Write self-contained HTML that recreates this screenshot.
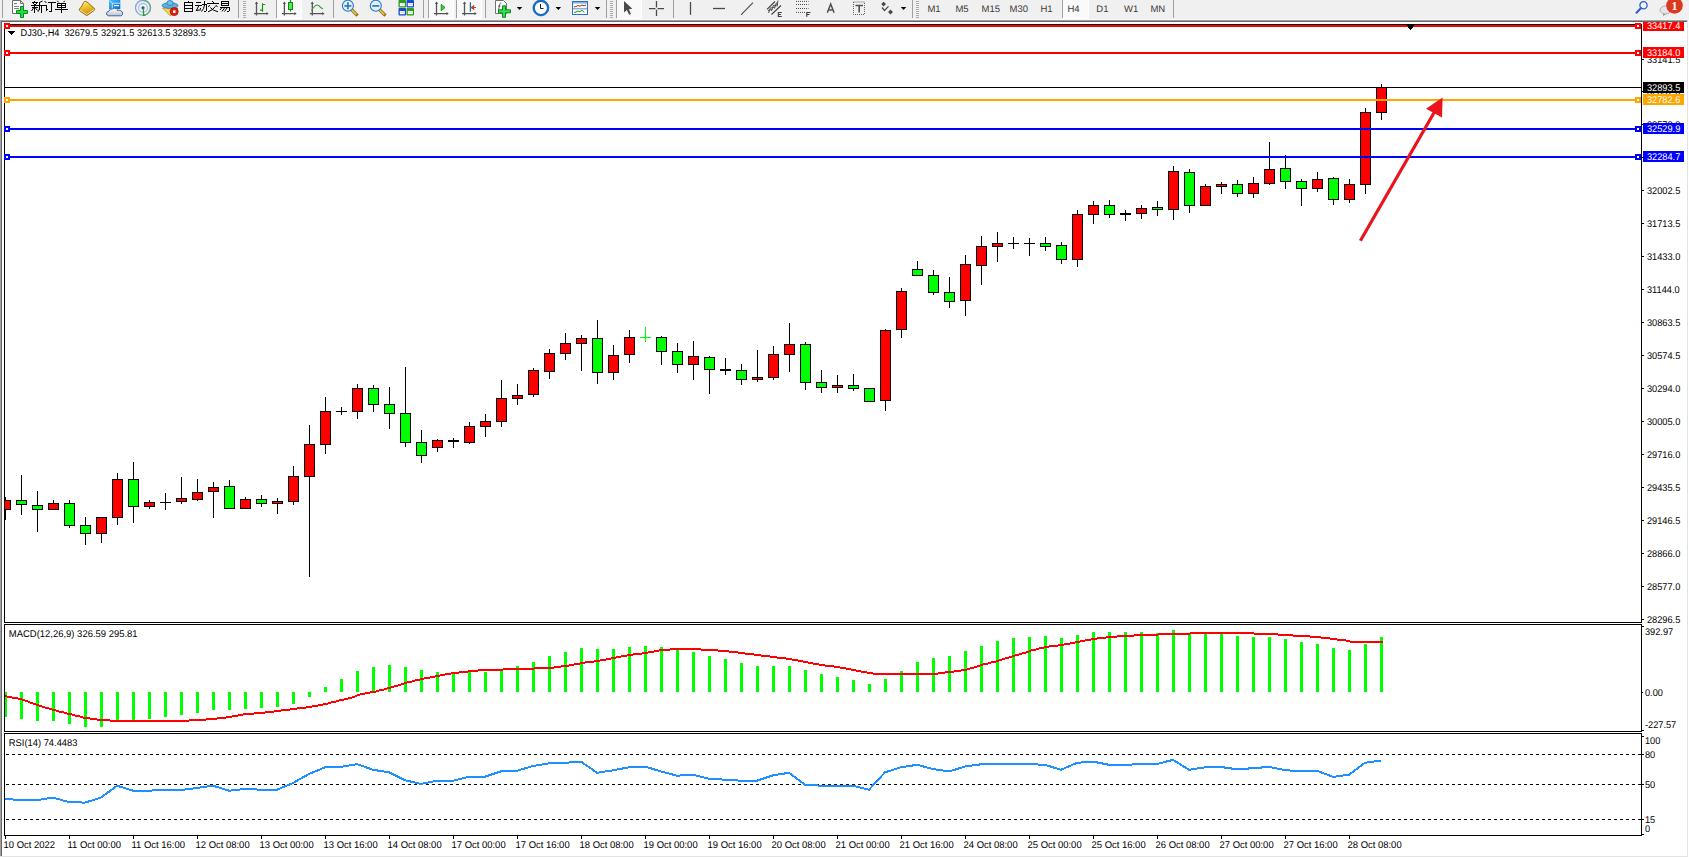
<!DOCTYPE html>
<html><head><meta charset="utf-8"><title>MT4 DJ30 H4</title>
<style>
html,body{margin:0;padding:0;background:#F0F0F0;overflow:hidden;}
svg{display:block;}
</style></head><body>
<svg width="1689" height="858" viewBox="0 0 1689 858" shape-rendering="crispEdges" text-rendering="geometricPrecision">
<rect x="0" y="0" width="1689" height="858" fill="#F0F0F0"/>
<rect x="0" y="20" width="1688" height="1" fill="#A0A0A0"/>
<rect x="0" y="20" width="1" height="837" fill="#A0A0A0"/>
<rect x="1" y="21" width="1686" height="1" fill="#696969"/>
<rect x="1" y="21" width="1" height="835" fill="#696969"/>
<rect x="1687" y="20" width="1" height="837" fill="#E3E3E3"/>
<rect x="0" y="856" width="1688" height="1" fill="#E3E3E3"/>
<rect x="1688" y="20" width="1" height="838" fill="#FFFFFF"/>
<rect x="0" y="857" width="1689" height="1" fill="#FFFFFF"/>
<rect x="2" y="22" width="1685" height="834" fill="#FFFFFF"/>
<defs>
<clipPath id="cm"><rect x="5" y="25" width="1636" height="597"/></clipPath>
<clipPath id="cmacd"><rect x="5" y="625" width="1636" height="106"/></clipPath>
<clipPath id="clab"><rect x="0" y="22" width="1689" height="834"/></clipPath>
<clipPath id="crsi"><rect x="5" y="734" width="1636" height="101"/></clipPath>
</defs>
<g clip-path="url(#cm)">
<rect x="5" y="497" width="1" height="23" fill="#000"/>
<rect x="0" y="500" width="11" height="10" fill="#000"/>
<rect x="1" y="501" width="9" height="8" fill="#FF0000"/>
<rect x="21" y="475" width="1" height="40" fill="#000"/>
<rect x="16" y="500" width="11" height="5" fill="#000"/>
<rect x="17" y="501" width="9" height="3" fill="#00FF00"/>
<rect x="37" y="491" width="1" height="41" fill="#000"/>
<rect x="32" y="505" width="11" height="5" fill="#000"/>
<rect x="33" y="506" width="9" height="3" fill="#00FF00"/>
<rect x="53" y="500" width="1" height="10" fill="#000"/>
<rect x="48" y="503" width="11" height="7" fill="#000"/>
<rect x="49" y="504" width="9" height="5" fill="#FF0000"/>
<rect x="69" y="500" width="1" height="28" fill="#000"/>
<rect x="64" y="503" width="11" height="23" fill="#000"/>
<rect x="65" y="504" width="9" height="21" fill="#00FF00"/>
<rect x="85" y="517" width="1" height="28" fill="#000"/>
<rect x="80" y="525" width="11" height="9" fill="#000"/>
<rect x="81" y="526" width="9" height="7" fill="#00FF00"/>
<rect x="101" y="517" width="1" height="26" fill="#000"/>
<rect x="96" y="517" width="11" height="17" fill="#000"/>
<rect x="97" y="518" width="9" height="15" fill="#FF0000"/>
<rect x="117" y="473" width="1" height="52" fill="#000"/>
<rect x="112" y="479" width="11" height="39" fill="#000"/>
<rect x="113" y="480" width="9" height="37" fill="#FF0000"/>
<rect x="133" y="462" width="1" height="61" fill="#000"/>
<rect x="128" y="479" width="11" height="28" fill="#000"/>
<rect x="129" y="480" width="9" height="26" fill="#00FF00"/>
<rect x="149" y="500" width="1" height="9" fill="#000"/>
<rect x="144" y="502" width="11" height="5" fill="#000"/>
<rect x="145" y="503" width="9" height="3" fill="#FF0000"/>
<rect x="165" y="493" width="1" height="17" fill="#000"/>
<rect x="160" y="502" width="11" height="1" fill="#000"/>
<rect x="181" y="477" width="1" height="27" fill="#000"/>
<rect x="176" y="498" width="11" height="4" fill="#000"/>
<rect x="177" y="499" width="9" height="2" fill="#FF0000"/>
<rect x="197" y="479" width="1" height="22" fill="#000"/>
<rect x="192" y="492" width="11" height="8" fill="#000"/>
<rect x="193" y="493" width="9" height="6" fill="#FF0000"/>
<rect x="213" y="482" width="1" height="36" fill="#000"/>
<rect x="208" y="487" width="11" height="5" fill="#000"/>
<rect x="209" y="488" width="9" height="3" fill="#FF0000"/>
<rect x="229" y="480" width="1" height="29" fill="#000"/>
<rect x="224" y="486" width="11" height="23" fill="#000"/>
<rect x="225" y="487" width="9" height="21" fill="#00FF00"/>
<rect x="245" y="497" width="1" height="12" fill="#000"/>
<rect x="240" y="499" width="11" height="10" fill="#000"/>
<rect x="241" y="500" width="9" height="8" fill="#FF0000"/>
<rect x="261" y="495" width="1" height="12" fill="#000"/>
<rect x="256" y="499" width="11" height="5" fill="#000"/>
<rect x="257" y="500" width="9" height="3" fill="#00FF00"/>
<rect x="277" y="498" width="1" height="16" fill="#000"/>
<rect x="272" y="501" width="11" height="3" fill="#000"/>
<rect x="273" y="502" width="9" height="1" fill="#FF0000"/>
<rect x="293" y="466" width="1" height="39" fill="#000"/>
<rect x="288" y="476" width="11" height="26" fill="#000"/>
<rect x="289" y="477" width="9" height="24" fill="#FF0000"/>
<rect x="309" y="425" width="1" height="152" fill="#000"/>
<rect x="304" y="444" width="11" height="33" fill="#000"/>
<rect x="305" y="445" width="9" height="31" fill="#FF0000"/>
<rect x="325" y="397" width="1" height="57" fill="#000"/>
<rect x="320" y="411" width="11" height="34" fill="#000"/>
<rect x="321" y="412" width="9" height="32" fill="#FF0000"/>
<rect x="341" y="407" width="1" height="8" fill="#000"/>
<rect x="336" y="411" width="11" height="1" fill="#000"/>
<rect x="357" y="384" width="1" height="35" fill="#000"/>
<rect x="352" y="388" width="11" height="24" fill="#000"/>
<rect x="353" y="389" width="9" height="22" fill="#FF0000"/>
<rect x="373" y="385" width="1" height="27" fill="#000"/>
<rect x="368" y="388" width="11" height="17" fill="#000"/>
<rect x="369" y="389" width="9" height="15" fill="#00FF00"/>
<rect x="389" y="387" width="1" height="42" fill="#000"/>
<rect x="384" y="404" width="11" height="10" fill="#000"/>
<rect x="385" y="405" width="9" height="8" fill="#00FF00"/>
<rect x="405" y="367" width="1" height="80" fill="#000"/>
<rect x="400" y="413" width="11" height="30" fill="#000"/>
<rect x="401" y="414" width="9" height="28" fill="#00FF00"/>
<rect x="421" y="430" width="1" height="33" fill="#000"/>
<rect x="416" y="442" width="11" height="14" fill="#000"/>
<rect x="417" y="443" width="9" height="12" fill="#00FF00"/>
<rect x="437" y="439" width="1" height="13" fill="#000"/>
<rect x="432" y="440" width="11" height="8" fill="#000"/>
<rect x="433" y="441" width="9" height="6" fill="#FF0000"/>
<rect x="453" y="438" width="1" height="10" fill="#000"/>
<rect x="448" y="440" width="11" height="2" fill="#000"/>
<rect x="469" y="422" width="1" height="22" fill="#000"/>
<rect x="464" y="426" width="11" height="17" fill="#000"/>
<rect x="465" y="427" width="9" height="15" fill="#FF0000"/>
<rect x="485" y="414" width="1" height="23" fill="#000"/>
<rect x="480" y="421" width="11" height="6" fill="#000"/>
<rect x="481" y="422" width="9" height="4" fill="#FF0000"/>
<rect x="501" y="380" width="1" height="47" fill="#000"/>
<rect x="496" y="398" width="11" height="24" fill="#000"/>
<rect x="497" y="399" width="9" height="22" fill="#FF0000"/>
<rect x="517" y="384" width="1" height="21" fill="#000"/>
<rect x="512" y="395" width="11" height="4" fill="#000"/>
<rect x="513" y="396" width="9" height="2" fill="#FF0000"/>
<rect x="533" y="368" width="1" height="29" fill="#000"/>
<rect x="528" y="370" width="11" height="25" fill="#000"/>
<rect x="529" y="371" width="9" height="23" fill="#FF0000"/>
<rect x="549" y="349" width="1" height="30" fill="#000"/>
<rect x="544" y="353" width="11" height="19" fill="#000"/>
<rect x="545" y="354" width="9" height="17" fill="#FF0000"/>
<rect x="565" y="333" width="1" height="27" fill="#000"/>
<rect x="560" y="343" width="11" height="11" fill="#000"/>
<rect x="561" y="344" width="9" height="9" fill="#FF0000"/>
<rect x="581" y="335" width="1" height="36" fill="#000"/>
<rect x="576" y="338" width="11" height="6" fill="#000"/>
<rect x="577" y="339" width="9" height="4" fill="#FF0000"/>
<rect x="597" y="320" width="1" height="64" fill="#000"/>
<rect x="592" y="338" width="11" height="35" fill="#000"/>
<rect x="593" y="339" width="9" height="33" fill="#00FF00"/>
<rect x="613" y="345" width="1" height="35" fill="#000"/>
<rect x="608" y="355" width="11" height="18" fill="#000"/>
<rect x="609" y="356" width="9" height="16" fill="#FF0000"/>
<rect x="629" y="330" width="1" height="33" fill="#000"/>
<rect x="624" y="337" width="11" height="18" fill="#000"/>
<rect x="625" y="338" width="9" height="16" fill="#FF0000"/>
<rect x="645" y="327" width="1" height="15" fill="#00FF00"/>
<rect x="640" y="337" width="11" height="1" fill="#00FF00"/>
<rect x="661" y="336" width="1" height="29" fill="#000"/>
<rect x="656" y="337" width="11" height="15" fill="#000"/>
<rect x="657" y="338" width="9" height="13" fill="#00FF00"/>
<rect x="677" y="343" width="1" height="30" fill="#000"/>
<rect x="672" y="351" width="11" height="14" fill="#000"/>
<rect x="673" y="352" width="9" height="12" fill="#00FF00"/>
<rect x="693" y="341" width="1" height="39" fill="#000"/>
<rect x="688" y="356" width="11" height="9" fill="#000"/>
<rect x="689" y="357" width="9" height="7" fill="#FF0000"/>
<rect x="709" y="356" width="1" height="38" fill="#000"/>
<rect x="704" y="357" width="11" height="13" fill="#000"/>
<rect x="705" y="358" width="9" height="11" fill="#00FF00"/>
<rect x="725" y="358" width="1" height="17" fill="#000"/>
<rect x="720" y="369" width="11" height="2" fill="#000"/>
<rect x="741" y="364" width="1" height="21" fill="#000"/>
<rect x="736" y="370" width="11" height="10" fill="#000"/>
<rect x="737" y="371" width="9" height="8" fill="#00FF00"/>
<rect x="757" y="350" width="1" height="32" fill="#000"/>
<rect x="752" y="377" width="11" height="3" fill="#000"/>
<rect x="753" y="378" width="9" height="1" fill="#FF0000"/>
<rect x="773" y="346" width="1" height="34" fill="#000"/>
<rect x="768" y="354" width="11" height="24" fill="#000"/>
<rect x="769" y="355" width="9" height="22" fill="#FF0000"/>
<rect x="789" y="323" width="1" height="49" fill="#000"/>
<rect x="784" y="344" width="11" height="11" fill="#000"/>
<rect x="785" y="345" width="9" height="9" fill="#FF0000"/>
<rect x="805" y="342" width="1" height="48" fill="#000"/>
<rect x="800" y="344" width="11" height="39" fill="#000"/>
<rect x="801" y="345" width="9" height="37" fill="#00FF00"/>
<rect x="821" y="370" width="1" height="23" fill="#000"/>
<rect x="816" y="382" width="11" height="6" fill="#000"/>
<rect x="817" y="383" width="9" height="4" fill="#00FF00"/>
<rect x="837" y="375" width="1" height="18" fill="#000"/>
<rect x="832" y="385" width="11" height="3" fill="#000"/>
<rect x="833" y="386" width="9" height="1" fill="#FF0000"/>
<rect x="853" y="374" width="1" height="17" fill="#000"/>
<rect x="848" y="385" width="11" height="4" fill="#000"/>
<rect x="849" y="386" width="9" height="2" fill="#00FF00"/>
<rect x="869" y="388" width="1" height="14" fill="#000"/>
<rect x="864" y="388" width="11" height="14" fill="#000"/>
<rect x="865" y="389" width="9" height="12" fill="#00FF00"/>
<rect x="885" y="329" width="1" height="82" fill="#000"/>
<rect x="880" y="330" width="11" height="71" fill="#000"/>
<rect x="881" y="331" width="9" height="69" fill="#FF0000"/>
<rect x="901" y="288" width="1" height="50" fill="#000"/>
<rect x="896" y="291" width="11" height="39" fill="#000"/>
<rect x="897" y="292" width="9" height="37" fill="#FF0000"/>
<rect x="917" y="261" width="1" height="15" fill="#000"/>
<rect x="912" y="269" width="11" height="7" fill="#000"/>
<rect x="913" y="270" width="9" height="5" fill="#00FF00"/>
<rect x="933" y="270" width="1" height="25" fill="#000"/>
<rect x="928" y="275" width="11" height="18" fill="#000"/>
<rect x="929" y="276" width="9" height="16" fill="#00FF00"/>
<rect x="949" y="277" width="1" height="31" fill="#000"/>
<rect x="944" y="292" width="11" height="10" fill="#000"/>
<rect x="945" y="293" width="9" height="8" fill="#00FF00"/>
<rect x="965" y="255" width="1" height="61" fill="#000"/>
<rect x="960" y="264" width="11" height="37" fill="#000"/>
<rect x="961" y="265" width="9" height="35" fill="#FF0000"/>
<rect x="981" y="236" width="1" height="49" fill="#000"/>
<rect x="976" y="246" width="11" height="20" fill="#000"/>
<rect x="977" y="247" width="9" height="18" fill="#FF0000"/>
<rect x="997" y="232" width="1" height="30" fill="#000"/>
<rect x="992" y="243" width="11" height="4" fill="#000"/>
<rect x="993" y="244" width="9" height="2" fill="#FF0000"/>
<rect x="1013" y="237" width="1" height="12" fill="#000"/>
<rect x="1008" y="243" width="11" height="1" fill="#000"/>
<rect x="1029" y="238" width="1" height="18" fill="#000"/>
<rect x="1024" y="243" width="11" height="1" fill="#000"/>
<rect x="1045" y="237" width="1" height="14" fill="#000"/>
<rect x="1040" y="243" width="11" height="4" fill="#000"/>
<rect x="1041" y="244" width="9" height="2" fill="#00FF00"/>
<rect x="1061" y="242" width="1" height="22" fill="#000"/>
<rect x="1056" y="245" width="11" height="15" fill="#000"/>
<rect x="1057" y="246" width="9" height="13" fill="#00FF00"/>
<rect x="1077" y="210" width="1" height="57" fill="#000"/>
<rect x="1072" y="214" width="11" height="46" fill="#000"/>
<rect x="1073" y="215" width="9" height="44" fill="#FF0000"/>
<rect x="1093" y="201" width="1" height="23" fill="#000"/>
<rect x="1088" y="205" width="11" height="10" fill="#000"/>
<rect x="1089" y="206" width="9" height="8" fill="#FF0000"/>
<rect x="1109" y="200" width="1" height="18" fill="#000"/>
<rect x="1104" y="205" width="11" height="10" fill="#000"/>
<rect x="1105" y="206" width="9" height="8" fill="#00FF00"/>
<rect x="1125" y="210" width="1" height="11" fill="#000"/>
<rect x="1120" y="213" width="11" height="2" fill="#000"/>
<rect x="1141" y="205" width="1" height="14" fill="#000"/>
<rect x="1136" y="208" width="11" height="6" fill="#000"/>
<rect x="1137" y="209" width="9" height="4" fill="#FF0000"/>
<rect x="1157" y="201" width="1" height="15" fill="#000"/>
<rect x="1152" y="207" width="11" height="3" fill="#000"/>
<rect x="1153" y="208" width="9" height="1" fill="#00FF00"/>
<rect x="1173" y="166" width="1" height="54" fill="#000"/>
<rect x="1168" y="171" width="11" height="39" fill="#000"/>
<rect x="1169" y="172" width="9" height="37" fill="#FF0000"/>
<rect x="1189" y="169" width="1" height="44" fill="#000"/>
<rect x="1184" y="172" width="11" height="34" fill="#000"/>
<rect x="1185" y="173" width="9" height="32" fill="#00FF00"/>
<rect x="1205" y="184" width="1" height="22" fill="#000"/>
<rect x="1200" y="186" width="11" height="20" fill="#000"/>
<rect x="1201" y="187" width="9" height="18" fill="#FF0000"/>
<rect x="1221" y="182" width="1" height="12" fill="#000"/>
<rect x="1216" y="184" width="11" height="3" fill="#000"/>
<rect x="1217" y="185" width="9" height="1" fill="#FF0000"/>
<rect x="1237" y="180" width="1" height="17" fill="#000"/>
<rect x="1232" y="184" width="11" height="10" fill="#000"/>
<rect x="1233" y="185" width="9" height="8" fill="#00FF00"/>
<rect x="1253" y="177" width="1" height="21" fill="#000"/>
<rect x="1248" y="183" width="11" height="11" fill="#000"/>
<rect x="1249" y="184" width="9" height="9" fill="#FF0000"/>
<rect x="1269" y="142" width="1" height="43" fill="#000"/>
<rect x="1264" y="169" width="11" height="15" fill="#000"/>
<rect x="1265" y="170" width="9" height="13" fill="#FF0000"/>
<rect x="1285" y="155" width="1" height="34" fill="#000"/>
<rect x="1280" y="168" width="11" height="14" fill="#000"/>
<rect x="1281" y="169" width="9" height="12" fill="#00FF00"/>
<rect x="1301" y="179" width="1" height="27" fill="#000"/>
<rect x="1296" y="181" width="11" height="8" fill="#000"/>
<rect x="1297" y="182" width="9" height="6" fill="#00FF00"/>
<rect x="1317" y="172" width="1" height="20" fill="#000"/>
<rect x="1312" y="179" width="11" height="10" fill="#000"/>
<rect x="1313" y="180" width="9" height="8" fill="#FF0000"/>
<rect x="1333" y="177" width="1" height="28" fill="#000"/>
<rect x="1328" y="178" width="11" height="22" fill="#000"/>
<rect x="1329" y="179" width="9" height="20" fill="#00FF00"/>
<rect x="1349" y="179" width="1" height="24" fill="#000"/>
<rect x="1344" y="184" width="11" height="16" fill="#000"/>
<rect x="1345" y="185" width="9" height="14" fill="#FF0000"/>
<rect x="1365" y="108" width="1" height="86" fill="#000"/>
<rect x="1360" y="112" width="11" height="73" fill="#000"/>
<rect x="1361" y="113" width="9" height="71" fill="#FF0000"/>
<rect x="1381" y="84" width="1" height="36" fill="#000"/>
<rect x="1376" y="87" width="11" height="26" fill="#000"/>
<rect x="1377" y="88" width="9" height="24" fill="#FF0000"/>
</g>
<rect x="4" y="24" width="1638" height="1" fill="#000"/>
<rect x="4" y="622" width="1638" height="1" fill="#000"/>
<rect x="4" y="24" width="1" height="599" fill="#000"/>
<rect x="1641" y="24" width="1" height="599" fill="#000"/>
<rect x="4" y="624" width="1638" height="1" fill="#000"/>
<rect x="4" y="731" width="1638" height="1" fill="#000"/>
<rect x="4" y="624" width="1" height="108" fill="#000"/>
<rect x="1641" y="624" width="1" height="108" fill="#000"/>
<rect x="4" y="733" width="1638" height="1" fill="#000"/>
<rect x="4" y="835" width="1638" height="1" fill="#000"/>
<rect x="4" y="733" width="1" height="103" fill="#000"/>
<rect x="1641" y="733" width="1" height="103" fill="#000"/>
<rect x="5" y="25" width="1636" height="1" fill="#FF0000"/>
<rect x="5" y="26" width="1636" height="1" fill="#FF0000"/>
<rect x="4" y="23" width="6" height="6" fill="#FF0000"/>
<rect x="6" y="25" width="2" height="2" fill="#FFFFFF"/>
<rect x="1635" y="23" width="6" height="6" fill="#FF0000"/>
<rect x="1637" y="25" width="2" height="2" fill="#FFFFFF"/>
<rect x="5" y="52" width="1636" height="1" fill="#FF0000"/>
<rect x="5" y="53" width="1636" height="1" fill="#FF0000"/>
<rect x="4" y="50" width="6" height="6" fill="#FF0000"/>
<rect x="6" y="52" width="2" height="2" fill="#FFFFFF"/>
<rect x="1635" y="50" width="6" height="6" fill="#FF0000"/>
<rect x="1637" y="52" width="2" height="2" fill="#FFFFFF"/>
<rect x="5" y="87" width="1636" height="1" fill="#000000"/>
<rect x="5" y="99" width="1636" height="1" fill="#FFA500"/>
<rect x="5" y="100" width="1636" height="1" fill="#FFA500"/>
<rect x="4" y="97" width="6" height="6" fill="#FFA500"/>
<rect x="6" y="99" width="2" height="2" fill="#FFFFFF"/>
<rect x="1635" y="97" width="6" height="6" fill="#FFA500"/>
<rect x="1637" y="99" width="2" height="2" fill="#FFFFFF"/>
<rect x="5" y="128" width="1636" height="1" fill="#0000FF"/>
<rect x="5" y="129" width="1636" height="1" fill="#0000FF"/>
<rect x="4" y="126" width="6" height="6" fill="#0000FF"/>
<rect x="6" y="128" width="2" height="2" fill="#FFFFFF"/>
<rect x="1635" y="126" width="6" height="6" fill="#0000FF"/>
<rect x="1637" y="128" width="2" height="2" fill="#FFFFFF"/>
<rect x="5" y="156" width="1636" height="1" fill="#0000FF"/>
<rect x="5" y="157" width="1636" height="1" fill="#0000FF"/>
<rect x="4" y="154" width="6" height="6" fill="#0000FF"/>
<rect x="6" y="156" width="2" height="2" fill="#FFFFFF"/>
<rect x="1635" y="154" width="6" height="6" fill="#0000FF"/>
<rect x="1637" y="156" width="2" height="2" fill="#FFFFFF"/>
<polygon points="1405.5,24 1415.5,24 1410.5,30" fill="#000"/>
<g clip-path="url(#cmacd)">
<rect x="4" y="692" width="3" height="25" fill="#00FF00"/>
<rect x="20" y="692" width="3" height="27" fill="#00FF00"/>
<rect x="36" y="692" width="3" height="29" fill="#00FF00"/>
<rect x="52" y="692" width="3" height="29" fill="#00FF00"/>
<rect x="68" y="692" width="3" height="32" fill="#00FF00"/>
<rect x="84" y="692" width="3" height="35" fill="#00FF00"/>
<rect x="100" y="692" width="3" height="35" fill="#00FF00"/>
<rect x="116" y="692" width="3" height="30" fill="#00FF00"/>
<rect x="132" y="692" width="3" height="28" fill="#00FF00"/>
<rect x="148" y="692" width="3" height="27" fill="#00FF00"/>
<rect x="164" y="692" width="3" height="25" fill="#00FF00"/>
<rect x="180" y="692" width="3" height="23" fill="#00FF00"/>
<rect x="196" y="692" width="3" height="21" fill="#00FF00"/>
<rect x="212" y="692" width="3" height="18" fill="#00FF00"/>
<rect x="228" y="692" width="3" height="18" fill="#00FF00"/>
<rect x="244" y="692" width="3" height="17" fill="#00FF00"/>
<rect x="260" y="692" width="3" height="16" fill="#00FF00"/>
<rect x="276" y="692" width="3" height="15" fill="#00FF00"/>
<rect x="292" y="692" width="3" height="12" fill="#00FF00"/>
<rect x="308" y="692" width="3" height="5" fill="#00FF00"/>
<rect x="324" y="687" width="3" height="5" fill="#00FF00"/>
<rect x="340" y="679" width="3" height="13" fill="#00FF00"/>
<rect x="356" y="671" width="3" height="21" fill="#00FF00"/>
<rect x="372" y="667" width="3" height="25" fill="#00FF00"/>
<rect x="388" y="665" width="3" height="27" fill="#00FF00"/>
<rect x="404" y="667" width="3" height="25" fill="#00FF00"/>
<rect x="420" y="670" width="3" height="22" fill="#00FF00"/>
<rect x="436" y="672" width="3" height="20" fill="#00FF00"/>
<rect x="452" y="672" width="3" height="20" fill="#00FF00"/>
<rect x="468" y="672" width="3" height="20" fill="#00FF00"/>
<rect x="484" y="672" width="3" height="20" fill="#00FF00"/>
<rect x="500" y="671" width="3" height="21" fill="#00FF00"/>
<rect x="516" y="666" width="3" height="26" fill="#00FF00"/>
<rect x="532" y="662" width="3" height="30" fill="#00FF00"/>
<rect x="548" y="656" width="3" height="36" fill="#00FF00"/>
<rect x="564" y="652" width="3" height="40" fill="#00FF00"/>
<rect x="580" y="648" width="3" height="44" fill="#00FF00"/>
<rect x="596" y="649" width="3" height="43" fill="#00FF00"/>
<rect x="612" y="649" width="3" height="43" fill="#00FF00"/>
<rect x="628" y="647" width="3" height="45" fill="#00FF00"/>
<rect x="644" y="646" width="3" height="46" fill="#00FF00"/>
<rect x="660" y="647" width="3" height="45" fill="#00FF00"/>
<rect x="676" y="649" width="3" height="43" fill="#00FF00"/>
<rect x="692" y="652" width="3" height="40" fill="#00FF00"/>
<rect x="708" y="656" width="3" height="36" fill="#00FF00"/>
<rect x="724" y="659" width="3" height="33" fill="#00FF00"/>
<rect x="740" y="663" width="3" height="29" fill="#00FF00"/>
<rect x="756" y="666" width="3" height="26" fill="#00FF00"/>
<rect x="772" y="666" width="3" height="26" fill="#00FF00"/>
<rect x="788" y="666" width="3" height="26" fill="#00FF00"/>
<rect x="804" y="670" width="3" height="22" fill="#00FF00"/>
<rect x="820" y="674" width="3" height="18" fill="#00FF00"/>
<rect x="836" y="677" width="3" height="15" fill="#00FF00"/>
<rect x="852" y="680" width="3" height="12" fill="#00FF00"/>
<rect x="868" y="684" width="3" height="8" fill="#00FF00"/>
<rect x="884" y="679" width="3" height="13" fill="#00FF00"/>
<rect x="900" y="671" width="3" height="21" fill="#00FF00"/>
<rect x="916" y="662" width="3" height="30" fill="#00FF00"/>
<rect x="932" y="658" width="3" height="34" fill="#00FF00"/>
<rect x="948" y="656" width="3" height="36" fill="#00FF00"/>
<rect x="964" y="651" width="3" height="41" fill="#00FF00"/>
<rect x="980" y="646" width="3" height="46" fill="#00FF00"/>
<rect x="996" y="641" width="3" height="51" fill="#00FF00"/>
<rect x="1012" y="638" width="3" height="54" fill="#00FF00"/>
<rect x="1028" y="637" width="3" height="55" fill="#00FF00"/>
<rect x="1044" y="636" width="3" height="56" fill="#00FF00"/>
<rect x="1060" y="638" width="3" height="54" fill="#00FF00"/>
<rect x="1076" y="635" width="3" height="57" fill="#00FF00"/>
<rect x="1092" y="632" width="3" height="60" fill="#00FF00"/>
<rect x="1108" y="632" width="3" height="60" fill="#00FF00"/>
<rect x="1124" y="632" width="3" height="60" fill="#00FF00"/>
<rect x="1140" y="632" width="3" height="60" fill="#00FF00"/>
<rect x="1156" y="633" width="3" height="59" fill="#00FF00"/>
<rect x="1172" y="630" width="3" height="62" fill="#00FF00"/>
<rect x="1188" y="634" width="3" height="58" fill="#00FF00"/>
<rect x="1204" y="634" width="3" height="58" fill="#00FF00"/>
<rect x="1220" y="634" width="3" height="58" fill="#00FF00"/>
<rect x="1236" y="636" width="3" height="56" fill="#00FF00"/>
<rect x="1252" y="637" width="3" height="55" fill="#00FF00"/>
<rect x="1268" y="637" width="3" height="55" fill="#00FF00"/>
<rect x="1284" y="639" width="3" height="53" fill="#00FF00"/>
<rect x="1300" y="642" width="3" height="50" fill="#00FF00"/>
<rect x="1316" y="644" width="3" height="48" fill="#00FF00"/>
<rect x="1332" y="648" width="3" height="44" fill="#00FF00"/>
<rect x="1348" y="650" width="3" height="42" fill="#00FF00"/>
<rect x="1364" y="644" width="3" height="48" fill="#00FF00"/>
<rect x="1380" y="637" width="3" height="55" fill="#00FF00"/>
<rect x="4" y="695" width="3" height="2" fill="#FF0000"/>
<rect x="7" y="696" width="5" height="2" fill="#FF0000"/>
<rect x="12" y="697" width="6" height="2" fill="#FF0000"/>
<rect x="18" y="698" width="4" height="2" fill="#FF0000"/>
<rect x="22" y="699" width="3" height="2" fill="#FF0000"/>
<rect x="25" y="700" width="3" height="2" fill="#FF0000"/>
<rect x="28" y="701" width="2" height="2" fill="#FF0000"/>
<rect x="30" y="702" width="3" height="2" fill="#FF0000"/>
<rect x="33" y="703" width="3" height="2" fill="#FF0000"/>
<rect x="36" y="704" width="3" height="2" fill="#FF0000"/>
<rect x="39" y="705" width="3" height="2" fill="#FF0000"/>
<rect x="42" y="706" width="3" height="2" fill="#FF0000"/>
<rect x="45" y="707" width="4" height="2" fill="#FF0000"/>
<rect x="49" y="708" width="3" height="2" fill="#FF0000"/>
<rect x="52" y="709" width="4" height="2" fill="#FF0000"/>
<rect x="56" y="710" width="3" height="2" fill="#FF0000"/>
<rect x="59" y="711" width="5" height="2" fill="#FF0000"/>
<rect x="64" y="712" width="3" height="2" fill="#FF0000"/>
<rect x="67" y="713" width="5" height="2" fill="#FF0000"/>
<rect x="72" y="714" width="3" height="2" fill="#FF0000"/>
<rect x="75" y="715" width="5" height="2" fill="#FF0000"/>
<rect x="80" y="716" width="3" height="2" fill="#FF0000"/>
<rect x="83" y="717" width="7" height="2" fill="#FF0000"/>
<rect x="90" y="718" width="7" height="2" fill="#FF0000"/>
<rect x="97" y="719" width="13" height="2" fill="#FF0000"/>
<rect x="110" y="720" width="79" height="2" fill="#FF0000"/>
<rect x="189" y="719" width="17" height="2" fill="#FF0000"/>
<rect x="206" y="718" width="11" height="2" fill="#FF0000"/>
<rect x="217" y="717" width="9" height="2" fill="#FF0000"/>
<rect x="226" y="716" width="6" height="2" fill="#FF0000"/>
<rect x="232" y="715" width="6" height="2" fill="#FF0000"/>
<rect x="238" y="714" width="5" height="2" fill="#FF0000"/>
<rect x="243" y="713" width="11" height="2" fill="#FF0000"/>
<rect x="254" y="712" width="11" height="2" fill="#FF0000"/>
<rect x="265" y="711" width="9" height="2" fill="#FF0000"/>
<rect x="274" y="710" width="7" height="2" fill="#FF0000"/>
<rect x="281" y="709" width="9" height="2" fill="#FF0000"/>
<rect x="290" y="708" width="7" height="2" fill="#FF0000"/>
<rect x="297" y="707" width="9" height="2" fill="#FF0000"/>
<rect x="306" y="706" width="6" height="2" fill="#FF0000"/>
<rect x="312" y="705" width="6" height="2" fill="#FF0000"/>
<rect x="318" y="704" width="5" height="2" fill="#FF0000"/>
<rect x="323" y="703" width="5" height="2" fill="#FF0000"/>
<rect x="328" y="702" width="3" height="2" fill="#FF0000"/>
<rect x="331" y="701" width="5" height="2" fill="#FF0000"/>
<rect x="336" y="700" width="3" height="2" fill="#FF0000"/>
<rect x="339" y="699" width="5" height="2" fill="#FF0000"/>
<rect x="344" y="698" width="4" height="2" fill="#FF0000"/>
<rect x="348" y="697" width="4" height="2" fill="#FF0000"/>
<rect x="352" y="696" width="3" height="2" fill="#FF0000"/>
<rect x="355" y="695" width="2" height="2" fill="#FF0000"/>
<rect x="357" y="694" width="3" height="2" fill="#FF0000"/>
<rect x="360" y="693" width="5" height="2" fill="#FF0000"/>
<rect x="365" y="692" width="5" height="2" fill="#FF0000"/>
<rect x="370" y="691" width="6" height="2" fill="#FF0000"/>
<rect x="376" y="690" width="3" height="2" fill="#FF0000"/>
<rect x="379" y="689" width="5" height="2" fill="#FF0000"/>
<rect x="384" y="688" width="3" height="2" fill="#FF0000"/>
<rect x="387" y="687" width="4" height="2" fill="#FF0000"/>
<rect x="391" y="686" width="3" height="2" fill="#FF0000"/>
<rect x="394" y="685" width="4" height="2" fill="#FF0000"/>
<rect x="398" y="684" width="3" height="2" fill="#FF0000"/>
<rect x="401" y="683" width="3" height="2" fill="#FF0000"/>
<rect x="404" y="682" width="3" height="2" fill="#FF0000"/>
<rect x="407" y="681" width="5" height="2" fill="#FF0000"/>
<rect x="412" y="680" width="3" height="2" fill="#FF0000"/>
<rect x="415" y="679" width="5" height="2" fill="#FF0000"/>
<rect x="420" y="678" width="4" height="2" fill="#FF0000"/>
<rect x="424" y="677" width="6" height="2" fill="#FF0000"/>
<rect x="430" y="676" width="5" height="2" fill="#FF0000"/>
<rect x="435" y="675" width="5" height="2" fill="#FF0000"/>
<rect x="440" y="674" width="5" height="2" fill="#FF0000"/>
<rect x="445" y="673" width="6" height="2" fill="#FF0000"/>
<rect x="451" y="672" width="8" height="2" fill="#FF0000"/>
<rect x="459" y="671" width="9" height="2" fill="#FF0000"/>
<rect x="468" y="670" width="10" height="2" fill="#FF0000"/>
<rect x="478" y="669" width="25" height="2" fill="#FF0000"/>
<rect x="503" y="668" width="31" height="2" fill="#FF0000"/>
<rect x="534" y="667" width="20" height="2" fill="#FF0000"/>
<rect x="554" y="666" width="7" height="2" fill="#FF0000"/>
<rect x="561" y="665" width="8" height="2" fill="#FF0000"/>
<rect x="569" y="664" width="5" height="2" fill="#FF0000"/>
<rect x="574" y="663" width="6" height="2" fill="#FF0000"/>
<rect x="580" y="662" width="5" height="2" fill="#FF0000"/>
<rect x="585" y="661" width="9" height="2" fill="#FF0000"/>
<rect x="594" y="660" width="6" height="2" fill="#FF0000"/>
<rect x="600" y="659" width="6" height="2" fill="#FF0000"/>
<rect x="606" y="658" width="5" height="2" fill="#FF0000"/>
<rect x="611" y="657" width="5" height="2" fill="#FF0000"/>
<rect x="616" y="656" width="5" height="2" fill="#FF0000"/>
<rect x="621" y="655" width="6" height="2" fill="#FF0000"/>
<rect x="627" y="654" width="6" height="2" fill="#FF0000"/>
<rect x="633" y="653" width="9" height="2" fill="#FF0000"/>
<rect x="642" y="652" width="6" height="2" fill="#FF0000"/>
<rect x="648" y="651" width="6" height="2" fill="#FF0000"/>
<rect x="654" y="650" width="5" height="2" fill="#FF0000"/>
<rect x="659" y="649" width="11" height="2" fill="#FF0000"/>
<rect x="670" y="648" width="31" height="2" fill="#FF0000"/>
<rect x="701" y="649" width="17" height="2" fill="#FF0000"/>
<rect x="718" y="650" width="11" height="2" fill="#FF0000"/>
<rect x="729" y="651" width="9" height="2" fill="#FF0000"/>
<rect x="738" y="652" width="7" height="2" fill="#FF0000"/>
<rect x="745" y="653" width="9" height="2" fill="#FF0000"/>
<rect x="754" y="654" width="7" height="2" fill="#FF0000"/>
<rect x="761" y="655" width="9" height="2" fill="#FF0000"/>
<rect x="770" y="656" width="7" height="2" fill="#FF0000"/>
<rect x="777" y="657" width="9" height="2" fill="#FF0000"/>
<rect x="786" y="658" width="6" height="2" fill="#FF0000"/>
<rect x="792" y="659" width="6" height="2" fill="#FF0000"/>
<rect x="798" y="660" width="5" height="2" fill="#FF0000"/>
<rect x="803" y="661" width="5" height="2" fill="#FF0000"/>
<rect x="808" y="662" width="5" height="2" fill="#FF0000"/>
<rect x="813" y="663" width="6" height="2" fill="#FF0000"/>
<rect x="819" y="664" width="6" height="2" fill="#FF0000"/>
<rect x="825" y="665" width="9" height="2" fill="#FF0000"/>
<rect x="834" y="666" width="6" height="2" fill="#FF0000"/>
<rect x="840" y="667" width="6" height="2" fill="#FF0000"/>
<rect x="846" y="668" width="5" height="2" fill="#FF0000"/>
<rect x="851" y="669" width="5" height="2" fill="#FF0000"/>
<rect x="856" y="670" width="5" height="2" fill="#FF0000"/>
<rect x="861" y="671" width="6" height="2" fill="#FF0000"/>
<rect x="867" y="672" width="6" height="2" fill="#FF0000"/>
<rect x="873" y="673" width="65" height="2" fill="#FF0000"/>
<rect x="938" y="672" width="7" height="2" fill="#FF0000"/>
<rect x="945" y="671" width="9" height="2" fill="#FF0000"/>
<rect x="954" y="670" width="7" height="2" fill="#FF0000"/>
<rect x="961" y="669" width="6" height="2" fill="#FF0000"/>
<rect x="967" y="668" width="3" height="2" fill="#FF0000"/>
<rect x="970" y="667" width="4" height="2" fill="#FF0000"/>
<rect x="974" y="666" width="3" height="2" fill="#FF0000"/>
<rect x="977" y="665" width="3" height="2" fill="#FF0000"/>
<rect x="980" y="664" width="3" height="2" fill="#FF0000"/>
<rect x="983" y="663" width="5" height="2" fill="#FF0000"/>
<rect x="988" y="662" width="3" height="2" fill="#FF0000"/>
<rect x="991" y="661" width="5" height="2" fill="#FF0000"/>
<rect x="996" y="660" width="3" height="2" fill="#FF0000"/>
<rect x="999" y="659" width="3" height="2" fill="#FF0000"/>
<rect x="1002" y="658" width="3" height="2" fill="#FF0000"/>
<rect x="1005" y="657" width="4" height="2" fill="#FF0000"/>
<rect x="1009" y="656" width="3" height="2" fill="#FF0000"/>
<rect x="1012" y="655" width="3" height="2" fill="#FF0000"/>
<rect x="1015" y="654" width="4" height="2" fill="#FF0000"/>
<rect x="1019" y="653" width="3" height="2" fill="#FF0000"/>
<rect x="1022" y="652" width="4" height="2" fill="#FF0000"/>
<rect x="1026" y="651" width="3" height="2" fill="#FF0000"/>
<rect x="1029" y="650" width="2" height="2" fill="#FF0000"/>
<rect x="1031" y="649" width="5" height="2" fill="#FF0000"/>
<rect x="1036" y="648" width="3" height="2" fill="#FF0000"/>
<rect x="1039" y="647" width="5" height="2" fill="#FF0000"/>
<rect x="1044" y="646" width="5" height="2" fill="#FF0000"/>
<rect x="1049" y="645" width="9" height="2" fill="#FF0000"/>
<rect x="1058" y="644" width="6" height="2" fill="#FF0000"/>
<rect x="1064" y="643" width="6" height="2" fill="#FF0000"/>
<rect x="1070" y="642" width="5" height="2" fill="#FF0000"/>
<rect x="1075" y="641" width="5" height="2" fill="#FF0000"/>
<rect x="1080" y="640" width="5" height="2" fill="#FF0000"/>
<rect x="1085" y="639" width="6" height="2" fill="#FF0000"/>
<rect x="1091" y="638" width="6" height="2" fill="#FF0000"/>
<rect x="1097" y="637" width="9" height="2" fill="#FF0000"/>
<rect x="1106" y="636" width="11" height="2" fill="#FF0000"/>
<rect x="1117" y="635" width="17" height="2" fill="#FF0000"/>
<rect x="1134" y="634" width="24" height="2" fill="#FF0000"/>
<rect x="1158" y="633" width="32" height="2" fill="#FF0000"/>
<rect x="1190" y="632" width="64" height="2" fill="#FF0000"/>
<rect x="1254" y="633" width="24" height="2" fill="#FF0000"/>
<rect x="1278" y="634" width="15" height="2" fill="#FF0000"/>
<rect x="1293" y="635" width="17" height="2" fill="#FF0000"/>
<rect x="1310" y="636" width="11" height="2" fill="#FF0000"/>
<rect x="1321" y="637" width="9" height="2" fill="#FF0000"/>
<rect x="1330" y="638" width="7" height="2" fill="#FF0000"/>
<rect x="1337" y="639" width="9" height="2" fill="#FF0000"/>
<rect x="1346" y="640" width="4" height="2" fill="#FF0000"/>
<rect x="1350" y="641" width="33" height="2" fill="#FF0000"/>
</g>
<line x1="6" y1="754.5" x2="1641" y2="754.5" stroke="#000" stroke-width="1" stroke-dasharray="3 3" shape-rendering="crispEdges"/>
<line x1="6" y1="784.5" x2="1641" y2="784.5" stroke="#000" stroke-width="1" stroke-dasharray="3 3" shape-rendering="crispEdges"/>
<line x1="6" y1="819.5" x2="1641" y2="819.5" stroke="#000" stroke-width="1" stroke-dasharray="3 3" shape-rendering="crispEdges"/>
<g clip-path="url(#crsi)">
<polyline points="4,798.9 21,800.1 37,800.1 53,797.6 69,802.1 85,802.6 101,797.6 117,785.7 133,790.7 149,790.7 165,789.7 181,790 197,788 213,785.7 229,790.7 245,788.9 261,789.7 277,789.7 293,783 309,774 325,767.3 341,766.8 357,764.1 373,769.8 389,772.3 405,780.2 421,784 437,780.7 453,780.7 469,776.7 485,776.7 501,771.3 517,770.8 533,766 549,763.3 565,762.8 581,761.6 597,772.8 613,770.3 629,767.3 645,766.5 661,771.5 677,775.7 693,774.8 709,778.7 725,779.7 741,780.7 757,780.7 773,775.3 789,772.8 805,784.7 821,785.7 837,785.7 853,785.7 869,789.7 885,772.3 901,767.3 917,764.8 933,769 949,771.5 965,766.5 981,764.3 997,764.1 1013,764.1 1029,764.1 1045,764.8 1061,769.8 1077,762.8 1093,761.6 1109,764.8 1125,764.8 1141,764.1 1157,764.1 1173,759.8 1189,769.8 1205,767.3 1221,767 1237,769.3 1253,768.2 1269,766.9 1285,770.1 1301,771.5 1317,770.7 1333,776.9 1349,774.7 1365,762.8 1381,760.6" fill="none" stroke="#1E90FF" stroke-width="2" stroke-linejoin="round"/>
</g>
<g font-family='"Liberation Sans", sans-serif' font-size="9" fill="#000">
<rect x="1642" y="59" width="2" height="1" fill="#000"/>
<text x="1647" y="63" font-size="9.8" textLength="33.30" lengthAdjust="spacingAndGlyphs">33141.5</text>
<rect x="1642" y="91" width="2" height="1" fill="#000"/>
<text x="1647" y="95" font-size="9.8" textLength="33.30" lengthAdjust="spacingAndGlyphs">32857.0</text>
<rect x="1642" y="124" width="2" height="1" fill="#000"/>
<text x="1647" y="128" font-size="9.8" textLength="33.30" lengthAdjust="spacingAndGlyphs">32573.0</text>
<rect x="1642" y="157" width="2" height="1" fill="#000"/>
<text x="1647" y="161" font-size="9.8" textLength="33.30" lengthAdjust="spacingAndGlyphs">32287.5</text>
<rect x="1642" y="190" width="2" height="1" fill="#000"/>
<text x="1647" y="194" font-size="9.8" textLength="33.30" lengthAdjust="spacingAndGlyphs">32002.5</text>
<rect x="1642" y="223" width="2" height="1" fill="#000"/>
<text x="1647" y="227" font-size="9.8" textLength="33.30" lengthAdjust="spacingAndGlyphs">31713.5</text>
<rect x="1642" y="256" width="2" height="1" fill="#000"/>
<text x="1647" y="260" font-size="9.8" textLength="33.30" lengthAdjust="spacingAndGlyphs">31433.0</text>
<rect x="1642" y="289" width="2" height="1" fill="#000"/>
<text x="1647" y="293" font-size="9.8" textLength="32.62" lengthAdjust="spacingAndGlyphs">31144.0</text>
<rect x="1642" y="322" width="2" height="1" fill="#000"/>
<text x="1647" y="326" font-size="9.8" textLength="33.30" lengthAdjust="spacingAndGlyphs">30863.5</text>
<rect x="1642" y="355" width="2" height="1" fill="#000"/>
<text x="1647" y="359" font-size="9.8" textLength="33.30" lengthAdjust="spacingAndGlyphs">30574.5</text>
<rect x="1642" y="388" width="2" height="1" fill="#000"/>
<text x="1647" y="392" font-size="9.8" textLength="33.30" lengthAdjust="spacingAndGlyphs">30294.0</text>
<rect x="1642" y="421" width="2" height="1" fill="#000"/>
<text x="1647" y="425" font-size="9.8" textLength="33.30" lengthAdjust="spacingAndGlyphs">30005.0</text>
<rect x="1642" y="454" width="2" height="1" fill="#000"/>
<text x="1647" y="458" font-size="9.8" textLength="33.30" lengthAdjust="spacingAndGlyphs">29716.0</text>
<rect x="1642" y="487" width="2" height="1" fill="#000"/>
<text x="1647" y="491" font-size="9.8" textLength="33.30" lengthAdjust="spacingAndGlyphs">29435.5</text>
<rect x="1642" y="520" width="2" height="1" fill="#000"/>
<text x="1647" y="524" font-size="9.8" textLength="33.30" lengthAdjust="spacingAndGlyphs">29146.5</text>
<rect x="1642" y="553" width="2" height="1" fill="#000"/>
<text x="1647" y="557" font-size="9.8" textLength="33.30" lengthAdjust="spacingAndGlyphs">28866.0</text>
<rect x="1642" y="586" width="2" height="1" fill="#000"/>
<text x="1647" y="590" font-size="9.8" textLength="33.30" lengthAdjust="spacingAndGlyphs">28577.0</text>
<rect x="1642" y="619" width="2" height="1" fill="#000"/>
<text x="1647" y="623" font-size="9.8" textLength="33.30" lengthAdjust="spacingAndGlyphs">28296.5</text>
<rect x="1642" y="626" width="2" height="1" fill="#000"/>
<rect x="1642" y="692" width="1" height="1" fill="#000"/>
<rect x="1642" y="730" width="2" height="1" fill="#000"/>
<text x="1645" y="635" font-size="9.8" textLength="28.18" lengthAdjust="spacingAndGlyphs">392.97</text>
<text x="1645" y="696" font-size="9.8" textLength="17.93" lengthAdjust="spacingAndGlyphs">0.00</text>
<text x="1645" y="728" font-size="9.8" textLength="31.24" lengthAdjust="spacingAndGlyphs">-227.57</text>
<rect x="1642" y="736" width="2" height="1" fill="#000"/>
<rect x="1642" y="754" width="2" height="1" fill="#000"/>
<rect x="1642" y="784" width="2" height="1" fill="#000"/>
<rect x="1642" y="819" width="2" height="1" fill="#000"/>
<rect x="1642" y="834" width="2" height="1" fill="#000"/>
<text x="1645" y="744" font-size="9.8" textLength="15.37" lengthAdjust="spacingAndGlyphs">100</text>
<text x="1645" y="758" font-size="9.8" textLength="10.25" lengthAdjust="spacingAndGlyphs">80</text>
<text x="1645" y="788" font-size="9.8" textLength="10.25" lengthAdjust="spacingAndGlyphs">50</text>
<text x="1645" y="823" font-size="9.8" textLength="10.25" lengthAdjust="spacingAndGlyphs">15</text>
<text x="1645" y="832" font-size="9.8" textLength="5.12" lengthAdjust="spacingAndGlyphs">0</text>
</g>
<g clip-path="url(#clab)">
<rect x="1643" y="20" width="41" height="11" fill="#FF0000"/>
<g font-family='"Liberation Sans", sans-serif'><text x="1647" y="29" font-size="9.8" textLength="33.30" lengthAdjust="spacingAndGlyphs" fill="#FFFFFF">33417.4</text></g>
<rect x="1643" y="47" width="41" height="11" fill="#FF0000"/>
<g font-family='"Liberation Sans", sans-serif'><text x="1647" y="56" font-size="9.8" textLength="33.30" lengthAdjust="spacingAndGlyphs" fill="#FFFFFF">33184.0</text></g>
<rect x="1643" y="82" width="41" height="11" fill="#000000"/>
<g font-family='"Liberation Sans", sans-serif'><text x="1647" y="91" font-size="9.8" textLength="33.30" lengthAdjust="spacingAndGlyphs" fill="#FFFFFF">32893.5</text></g>
<rect x="1643" y="94" width="41" height="11" fill="#FFA500"/>
<g font-family='"Liberation Sans", sans-serif'><text x="1647" y="103" font-size="9.8" textLength="33.30" lengthAdjust="spacingAndGlyphs" fill="#FFFFFF">32782.6</text></g>
<rect x="1643" y="123" width="41" height="11" fill="#0000FF"/>
<g font-family='"Liberation Sans", sans-serif'><text x="1647" y="132" font-size="9.8" textLength="33.30" lengthAdjust="spacingAndGlyphs" fill="#FFFFFF">32529.9</text></g>
<rect x="1643" y="151" width="41" height="11" fill="#0000FF"/>
<g font-family='"Liberation Sans", sans-serif'><text x="1647" y="160" font-size="9.8" textLength="33.30" lengthAdjust="spacingAndGlyphs" fill="#FFFFFF">32284.7</text></g>
</g>
<g font-family='"Liberation Sans", sans-serif' font-size="9" fill="#000">
<rect x="5" y="836" width="1" height="3" fill="#000"/>
<text x="3.5" y="848" font-size="9.8" textLength="51.52" lengthAdjust="spacingAndGlyphs">10 Oct 2022</text>
<rect x="69" y="836" width="1" height="3" fill="#000"/>
<text x="67.5" y="848" font-size="9.8" textLength="53.45" lengthAdjust="spacingAndGlyphs">11 Oct 00:00</text>
<rect x="133" y="836" width="1" height="3" fill="#000"/>
<text x="131.5" y="848" font-size="9.8" textLength="53.45" lengthAdjust="spacingAndGlyphs">11 Oct 16:00</text>
<rect x="197" y="836" width="1" height="3" fill="#000"/>
<text x="195.5" y="848" font-size="9.8" textLength="54.15" lengthAdjust="spacingAndGlyphs">12 Oct 08:00</text>
<rect x="261" y="836" width="1" height="3" fill="#000"/>
<text x="259.5" y="848" font-size="9.8" textLength="54.15" lengthAdjust="spacingAndGlyphs">13 Oct 00:00</text>
<rect x="325" y="836" width="1" height="3" fill="#000"/>
<text x="323.5" y="848" font-size="9.8" textLength="54.15" lengthAdjust="spacingAndGlyphs">13 Oct 16:00</text>
<rect x="389" y="836" width="1" height="3" fill="#000"/>
<text x="387.5" y="848" font-size="9.8" textLength="54.15" lengthAdjust="spacingAndGlyphs">14 Oct 08:00</text>
<rect x="453" y="836" width="1" height="3" fill="#000"/>
<text x="451.5" y="848" font-size="9.8" textLength="54.15" lengthAdjust="spacingAndGlyphs">17 Oct 00:00</text>
<rect x="517" y="836" width="1" height="3" fill="#000"/>
<text x="515.5" y="848" font-size="9.8" textLength="54.15" lengthAdjust="spacingAndGlyphs">17 Oct 16:00</text>
<rect x="581" y="836" width="1" height="3" fill="#000"/>
<text x="579.5" y="848" font-size="9.8" textLength="54.15" lengthAdjust="spacingAndGlyphs">18 Oct 08:00</text>
<rect x="645" y="836" width="1" height="3" fill="#000"/>
<text x="643.5" y="848" font-size="9.8" textLength="54.15" lengthAdjust="spacingAndGlyphs">19 Oct 00:00</text>
<rect x="709" y="836" width="1" height="3" fill="#000"/>
<text x="707.5" y="848" font-size="9.8" textLength="54.15" lengthAdjust="spacingAndGlyphs">19 Oct 16:00</text>
<rect x="773" y="836" width="1" height="3" fill="#000"/>
<text x="771.5" y="848" font-size="9.8" textLength="54.15" lengthAdjust="spacingAndGlyphs">20 Oct 08:00</text>
<rect x="837" y="836" width="1" height="3" fill="#000"/>
<text x="835.5" y="848" font-size="9.8" textLength="54.15" lengthAdjust="spacingAndGlyphs">21 Oct 00:00</text>
<rect x="901" y="836" width="1" height="3" fill="#000"/>
<text x="899.5" y="848" font-size="9.8" textLength="54.15" lengthAdjust="spacingAndGlyphs">21 Oct 16:00</text>
<rect x="965" y="836" width="1" height="3" fill="#000"/>
<text x="963.5" y="848" font-size="9.8" textLength="54.15" lengthAdjust="spacingAndGlyphs">24 Oct 08:00</text>
<rect x="1029" y="836" width="1" height="3" fill="#000"/>
<text x="1027.5" y="848" font-size="9.8" textLength="54.15" lengthAdjust="spacingAndGlyphs">25 Oct 00:00</text>
<rect x="1093" y="836" width="1" height="3" fill="#000"/>
<text x="1091.5" y="848" font-size="9.8" textLength="54.15" lengthAdjust="spacingAndGlyphs">25 Oct 16:00</text>
<rect x="1157" y="836" width="1" height="3" fill="#000"/>
<text x="1155.5" y="848" font-size="9.8" textLength="54.15" lengthAdjust="spacingAndGlyphs">26 Oct 08:00</text>
<rect x="1221" y="836" width="1" height="3" fill="#000"/>
<text x="1219.5" y="848" font-size="9.8" textLength="54.15" lengthAdjust="spacingAndGlyphs">27 Oct 00:00</text>
<rect x="1285" y="836" width="1" height="3" fill="#000"/>
<text x="1283.5" y="848" font-size="9.8" textLength="54.15" lengthAdjust="spacingAndGlyphs">27 Oct 16:00</text>
<rect x="1349" y="836" width="1" height="3" fill="#000"/>
<text x="1347.5" y="848" font-size="9.8" textLength="54.15" lengthAdjust="spacingAndGlyphs">28 Oct 08:00</text>
</g>
<g font-family='"Liberation Sans", sans-serif' font-size="9" fill="#000">
<polygon points="8,31 15,31 11.5,35" fill="#000"/>
<text x="20.5" y="36" font-size="9.8" textLength="38.91" lengthAdjust="spacingAndGlyphs">DJ30-,H4</text>
<text x="64.5" y="36" font-size="9.8" textLength="33.30" lengthAdjust="spacingAndGlyphs">32679.5</text>
<text x="101" y="36" font-size="9.8" textLength="33.30" lengthAdjust="spacingAndGlyphs">32921.5</text>
<text x="137" y="36" font-size="9.8" textLength="33.30" lengthAdjust="spacingAndGlyphs">32613.5</text>
<text x="172.5" y="36" font-size="9.8" textLength="33.30" lengthAdjust="spacingAndGlyphs">32893.5</text>
<text x="8.8" y="637" font-size="9.8" textLength="128.80" lengthAdjust="spacingAndGlyphs">MACD(12,26,9) 326.59 295.81</text>
<text x="8.8" y="746" font-size="9.8" textLength="68.68" lengthAdjust="spacingAndGlyphs">RSI(14) 74.4483</text>
</g>
<g shape-rendering="geometricPrecision"><line x1="1360.4" y1="240.8" x2="1435" y2="111" stroke="#E9141C" stroke-width="3.2"/>
<polygon points="1442.6,97.6 1426,108.7 1442,117.4" fill="#E9141C"/></g>
<g id="toolbar" shape-rendering="geometricPrecision">
<rect x="0" y="0" width="1689" height="20" fill="#F0F0F0"/>
<rect x="0" y="19" width="1688" height="1" fill="#F7F7F7"/>
<defs><pattern id="chk" width="2" height="2" patternUnits="userSpaceOnUse"><rect width="2" height="2" fill="#F7F7F7"/><rect width="1" height="1" fill="#FCFCFC"/><rect x="1" y="1" width="1" height="1" fill="#FCFCFC"/></pattern></defs>
<rect x="277" y="0" width="24" height="18" fill="url(#chk)" shape-rendering="crispEdges"/>
<rect x="301" y="0" width="1" height="19" fill="#FFFFFF" shape-rendering="crispEdges"/>
<rect x="277" y="18" width="25" height="1" fill="#FFFFFF" shape-rendering="crispEdges"/>
<rect x="429" y="0" width="24" height="18" fill="url(#chk)" shape-rendering="crispEdges"/>
<rect x="453" y="0" width="1" height="19" fill="#FFFFFF" shape-rendering="crispEdges"/>
<rect x="429" y="18" width="25" height="1" fill="#FFFFFF" shape-rendering="crispEdges"/>
<rect x="457" y="0" width="24" height="18" fill="url(#chk)" shape-rendering="crispEdges"/>
<rect x="481" y="0" width="1" height="19" fill="#FFFFFF" shape-rendering="crispEdges"/>
<rect x="457" y="18" width="25" height="1" fill="#FFFFFF" shape-rendering="crispEdges"/>
<rect x="617" y="0" width="24" height="18" fill="url(#chk)" shape-rendering="crispEdges"/>
<rect x="641" y="0" width="1" height="19" fill="#FFFFFF" shape-rendering="crispEdges"/>
<rect x="617" y="18" width="25" height="1" fill="#FFFFFF" shape-rendering="crispEdges"/>
<rect x="1063" y="0" width="25" height="18" fill="url(#chk)" shape-rendering="crispEdges"/>
<rect x="1088" y="0" width="1" height="19" fill="#FFFFFF" shape-rendering="crispEdges"/>
<rect x="1063" y="18" width="26" height="1" fill="#FFFFFF" shape-rendering="crispEdges"/>
<rect x="2" y="0" width="1" height="18" fill="#A0A0A0" shape-rendering="crispEdges"/>
<rect x="238" y="0" width="1" height="18" fill="#A0A0A0" shape-rendering="crispEdges"/>
<rect x="276" y="0" width="1" height="18" fill="#A0A0A0" shape-rendering="crispEdges"/>
<rect x="333" y="0" width="1" height="18" fill="#A0A0A0" shape-rendering="crispEdges"/>
<rect x="423" y="0" width="1" height="18" fill="#A0A0A0" shape-rendering="crispEdges"/>
<rect x="428" y="0" width="1" height="18" fill="#A0A0A0" shape-rendering="crispEdges"/>
<rect x="456" y="0" width="1" height="18" fill="#A0A0A0" shape-rendering="crispEdges"/>
<rect x="485" y="0" width="1" height="18" fill="#A0A0A0" shape-rendering="crispEdges"/>
<rect x="606" y="0" width="1" height="18" fill="#A0A0A0" shape-rendering="crispEdges"/>
<rect x="616" y="0" width="1" height="18" fill="#A0A0A0" shape-rendering="crispEdges"/>
<rect x="673" y="0" width="1" height="18" fill="#A0A0A0" shape-rendering="crispEdges"/>
<rect x="912" y="0" width="1" height="18" fill="#A0A0A0" shape-rendering="crispEdges"/>
<rect x="1062" y="0" width="1" height="18" fill="#A0A0A0" shape-rendering="crispEdges"/>
<rect x="1173" y="0" width="1" height="18" fill="#A0A0A0" shape-rendering="crispEdges"/>
<rect x="243" y="1" width="3" height="1" fill="#ADADAD" shape-rendering="crispEdges"/>
<rect x="243" y="3" width="3" height="1" fill="#ADADAD" shape-rendering="crispEdges"/>
<rect x="243" y="5" width="3" height="1" fill="#ADADAD" shape-rendering="crispEdges"/>
<rect x="243" y="7" width="3" height="1" fill="#ADADAD" shape-rendering="crispEdges"/>
<rect x="243" y="9" width="3" height="1" fill="#ADADAD" shape-rendering="crispEdges"/>
<rect x="243" y="11" width="3" height="1" fill="#ADADAD" shape-rendering="crispEdges"/>
<rect x="243" y="13" width="3" height="1" fill="#ADADAD" shape-rendering="crispEdges"/>
<rect x="243" y="15" width="3" height="1" fill="#ADADAD" shape-rendering="crispEdges"/>
<rect x="243" y="17" width="3" height="1" fill="#ADADAD" shape-rendering="crispEdges"/>
<rect x="610" y="1" width="3" height="1" fill="#ADADAD" shape-rendering="crispEdges"/>
<rect x="610" y="3" width="3" height="1" fill="#ADADAD" shape-rendering="crispEdges"/>
<rect x="610" y="5" width="3" height="1" fill="#ADADAD" shape-rendering="crispEdges"/>
<rect x="610" y="7" width="3" height="1" fill="#ADADAD" shape-rendering="crispEdges"/>
<rect x="610" y="9" width="3" height="1" fill="#ADADAD" shape-rendering="crispEdges"/>
<rect x="610" y="11" width="3" height="1" fill="#ADADAD" shape-rendering="crispEdges"/>
<rect x="610" y="13" width="3" height="1" fill="#ADADAD" shape-rendering="crispEdges"/>
<rect x="610" y="15" width="3" height="1" fill="#ADADAD" shape-rendering="crispEdges"/>
<rect x="610" y="17" width="3" height="1" fill="#ADADAD" shape-rendering="crispEdges"/>
<rect x="916" y="1" width="3" height="1" fill="#ADADAD" shape-rendering="crispEdges"/>
<rect x="916" y="3" width="3" height="1" fill="#ADADAD" shape-rendering="crispEdges"/>
<rect x="916" y="5" width="3" height="1" fill="#ADADAD" shape-rendering="crispEdges"/>
<rect x="916" y="7" width="3" height="1" fill="#ADADAD" shape-rendering="crispEdges"/>
<rect x="916" y="9" width="3" height="1" fill="#ADADAD" shape-rendering="crispEdges"/>
<rect x="916" y="11" width="3" height="1" fill="#ADADAD" shape-rendering="crispEdges"/>
<rect x="916" y="13" width="3" height="1" fill="#ADADAD" shape-rendering="crispEdges"/>
<rect x="916" y="15" width="3" height="1" fill="#ADADAD" shape-rendering="crispEdges"/>
<rect x="916" y="17" width="3" height="1" fill="#ADADAD" shape-rendering="crispEdges"/>
<path d="M12.5,0.5 h8 l3,3 v10 h-11 z" fill="#FFFFFF" stroke="#6E6E6E" stroke-width="1"/>
<path d="M20.5,0.5 v3 h3" fill="none" stroke="#6E6E6E" stroke-width="1"/>
<rect x="14" y="3" width="3" height="1.2" fill="#808080"/><rect x="14" y="6" width="5" height="1" fill="#808080"/><rect x="14" y="8" width="5" height="1" fill="#808080"/>
<path d="M20.5,6.5 h3 v4 h4 v3 h-4 v4 h-3 v-4 h-4 v-3 h4 z" fill="#1EE03C" stroke="#0A8A1E" stroke-width="1"/>
<rect x="34" y="1" width="1" height="1" fill="#000000" shape-rendering="crispEdges"/>
<rect x="32" y="2" width="6" height="1" fill="#000000" shape-rendering="crispEdges"/>
<rect x="33" y="3" width="1" height="1" fill="#000000" shape-rendering="crispEdges"/>
<rect x="34" y="4" width="1" height="1" fill="#000000" shape-rendering="crispEdges"/>
<rect x="36" y="3" width="1" height="1" fill="#000000" shape-rendering="crispEdges"/>
<rect x="35" y="4" width="1" height="1" fill="#000000" shape-rendering="crispEdges"/>
<rect x="31" y="5" width="8" height="1" fill="#000000" shape-rendering="crispEdges"/>
<rect x="32" y="7" width="6" height="1" fill="#000000" shape-rendering="crispEdges"/>
<rect x="34" y="5" width="1" height="8" fill="#000000" shape-rendering="crispEdges"/>
<path d="M33.5,8 L31.5,11" stroke="#000000" stroke-width="1.0" fill="none"/>
<path d="M35.5,8 L37.5,10.5" stroke="#000000" stroke-width="1.0" fill="none"/>
<path d="M42.5,1 L39.5,2.5" stroke="#000000" stroke-width="1.0" fill="none"/>
<rect x="39" y="2" width="1" height="8" fill="#000000" shape-rendering="crispEdges"/>
<path d="M39.5,9 L38,11.8" stroke="#000000" stroke-width="1.0" fill="none"/>
<rect x="39" y="5" width="5" height="1" fill="#000000" shape-rendering="crispEdges"/>
<rect x="41" y="5" width="1" height="8" fill="#000000" shape-rendering="crispEdges"/>
<path d="M44.5,1 L46.5,3" stroke="#000000" stroke-width="1.0" fill="none"/>
<rect x="44" y="5" width="3" height="1" fill="#000000" shape-rendering="crispEdges"/>
<rect x="46" y="5" width="1" height="6" fill="#000000" shape-rendering="crispEdges"/>
<path d="M46.5,10.5 L48,9" stroke="#000000" stroke-width="1.0" fill="none"/>
<rect x="48" y="2" width="8" height="1" fill="#000000" shape-rendering="crispEdges"/>
<rect x="51" y="2" width="1" height="10" fill="#000000" shape-rendering="crispEdges"/>
<rect x="49" y="11" width="3" height="1" fill="#000000" shape-rendering="crispEdges"/>
<path d="M57.3,0.8 L58.5,2.3" stroke="#000000" stroke-width="1.0" fill="none"/>
<path d="M64.7,0.8 L63.5,2.3" stroke="#000000" stroke-width="1.0" fill="none"/>
<rect x="57" y="3" width="9" height="1" fill="#000000" shape-rendering="crispEdges"/>
<rect x="57" y="5" width="9" height="1" fill="#000000" shape-rendering="crispEdges"/>
<rect x="57" y="7" width="9" height="1" fill="#000000" shape-rendering="crispEdges"/>
<rect x="57" y="3" width="1" height="5" fill="#000000" shape-rendering="crispEdges"/>
<rect x="65" y="3" width="1" height="5" fill="#000000" shape-rendering="crispEdges"/>
<rect x="61" y="3" width="1" height="10" fill="#000000" shape-rendering="crispEdges"/>
<rect x="55" y="9" width="13" height="1" fill="#000000" shape-rendering="crispEdges"/>
<rect x="188" y="1" width="1" height="1" fill="#000000" shape-rendering="crispEdges"/>
<rect x="184" y="2" width="9" height="1" fill="#000000" shape-rendering="crispEdges"/>
<rect x="184" y="5" width="9" height="1" fill="#000000" shape-rendering="crispEdges"/>
<rect x="184" y="8" width="9" height="1" fill="#000000" shape-rendering="crispEdges"/>
<rect x="184" y="11" width="9" height="1" fill="#000000" shape-rendering="crispEdges"/>
<rect x="184" y="2" width="1" height="10" fill="#000000" shape-rendering="crispEdges"/>
<rect x="192" y="2" width="1" height="10" fill="#000000" shape-rendering="crispEdges"/>
<rect x="196" y="2" width="5" height="1" fill="#000000" shape-rendering="crispEdges"/>
<rect x="195" y="5" width="7" height="1" fill="#000000" shape-rendering="crispEdges"/>
<path d="M199,5.5 L196.3,10.5" stroke="#000000" stroke-width="1.0" fill="none"/>
<path d="M196,10.5 L201,9.8" stroke="#000000" stroke-width="1.0" fill="none"/>
<rect x="200" y="8" width="1" height="1" fill="#000000" shape-rendering="crispEdges"/>
<rect x="202" y="4" width="5" height="1" fill="#000000" shape-rendering="crispEdges"/>
<rect x="206" y="4" width="1" height="7" fill="#000000" shape-rendering="crispEdges"/>
<rect x="204" y="11" width="2" height="1" fill="#000000" shape-rendering="crispEdges"/>
<rect x="204" y="1" width="1" height="5" fill="#000000" shape-rendering="crispEdges"/>
<path d="M204.5,5 Q204,9 201.5,11.5" stroke="#000000" stroke-width="1.0" fill="none"/>
<rect x="212" y="1" width="1" height="1" fill="#000000" shape-rendering="crispEdges"/>
<rect x="213" y="2" width="1" height="1" fill="#000000" shape-rendering="crispEdges"/>
<rect x="207" y="3" width="12" height="1" fill="#000000" shape-rendering="crispEdges"/>
<path d="M209.8,5 L208.3,7" stroke="#000000" stroke-width="1.0" fill="none"/>
<path d="M215.8,5 L217.5,7" stroke="#000000" stroke-width="1.0" fill="none"/>
<path d="M215.5,6.3 Q213.5,10 208,11.8" stroke="#000000" stroke-width="1.0" fill="none"/>
<path d="M210.3,7.5 Q212.5,10.5 218,11.8" stroke="#000000" stroke-width="1.0" fill="none"/>
<rect x="221" y="1" width="8" height="1" fill="#000000" shape-rendering="crispEdges"/>
<rect x="221" y="3" width="8" height="1" fill="#000000" shape-rendering="crispEdges"/>
<rect x="221" y="5" width="8" height="1" fill="#000000" shape-rendering="crispEdges"/>
<rect x="221" y="1" width="1" height="5" fill="#000000" shape-rendering="crispEdges"/>
<rect x="228" y="1" width="1" height="5" fill="#000000" shape-rendering="crispEdges"/>
<rect x="220" y="7" width="10" height="1" fill="#000000" shape-rendering="crispEdges"/>
<rect x="229" y="7" width="1" height="4" fill="#000000" shape-rendering="crispEdges"/>
<rect x="227" y="11" width="2" height="1" fill="#000000" shape-rendering="crispEdges"/>
<path d="M222,7.5 L220,10" stroke="#000000" stroke-width="1.0" fill="none"/>
<path d="M224.5,8 L222,11.5" stroke="#000000" stroke-width="1.0" fill="none"/>
<path d="M227,8 L224.5,11.5" stroke="#000000" stroke-width="1.0" fill="none"/>
<defs><linearGradient id="gbk" x1="0" y1="0" x2="0.3" y2="1"><stop offset="0" stop-color="#FFF090"/><stop offset="0.45" stop-color="#F0C830"/><stop offset="1" stop-color="#C89010"/></linearGradient><linearGradient id="gsv" x1="0" y1="0" x2="1" y2="1"><stop offset="0" stop-color="#50C0FF"/><stop offset="1" stop-color="#0070D0"/></linearGradient><linearGradient id="gcl" x1="0" y1="0" x2="0" y2="1"><stop offset="0" stop-color="#FFFFFF"/><stop offset="1" stop-color="#B8C4D8"/></linearGradient></defs>
<path d="M84.5,1.5 Q86,1 87,2 L94.5,8.5 Q95.2,9.6 94,10.5 L87.8,15 Q86.8,15.6 85.8,15 L79.8,10.8 Q78.8,10 79.5,9 Q82.5,6 83.5,2.5 Q83.8,1.8 84.5,1.5 Z" fill="url(#gbk)" stroke="#9A5E08" stroke-width="0.9"/>
<path d="M80.2,10.3 L86.8,14.6 L94,9.6" fill="none" stroke="#FFF4C8" stroke-width="0.9"/>
<path d="M81,11.6 L86.8,15.4 L93.5,10.8" fill="none" stroke="#A06810" stroke-width="0.7" opacity="0.7"/>
<path d="M109,0 H120.3 V9 H109 Z" fill="url(#gsv)"/>
<path d="M109.6,0.6 L112.3,3.2 V9 M112.3,3.2 H120" fill="none" stroke="#E8F6FF" stroke-width="0.8"/>
<path d="M114,5.6 H119" stroke="#FFFFFF" stroke-width="1.2"/>
<path d="M108.5,15.8 Q106.2,15.6 106.6,13 Q107,11.3 109,11.2 Q109.6,8.6 112.5,8.9 Q114,7.6 116.3,8.6 Q117.8,9.6 117.5,10.6 Q119,9.6 120.8,10.8 Q123.2,11.6 122.6,14.2 Q122.2,15.8 120.5,15.8 Z" fill="url(#gcl)" stroke="#3C5A8C" stroke-width="0.9"/>
<circle cx="143" cy="7.8" r="7.5" fill="none" stroke="#7FA0D8" stroke-width="1.2"/>
<circle cx="143" cy="7.8" r="4.5" fill="none" stroke="#A8C0E0" stroke-width="1.2"/>
<path d="M143,0.3 A7.5,7.5 0 0 1 143,15.3" fill="none" stroke="#5FAF70" stroke-width="1.4" opacity="0.8"/>
<circle cx="143" cy="7.8" r="1.6" fill="#2050C0"/>
<path d="M143.5,8 v7.5 l2,-0.5" fill="none" stroke="#20A020" stroke-width="1.2"/>
<path d="M162.5,8 L178,8 L170.5,16 Z" fill="#F2D64A" stroke="#C09010" stroke-width="0.8"/>
<ellipse cx="170" cy="5.5" rx="8" ry="2.8" fill="#5AB0E0" stroke="#2A7AB0" stroke-width="0.8"/>
<ellipse cx="170" cy="3" rx="3.2" ry="2.5" fill="#70C0EC" stroke="#2A7AB0" stroke-width="0.8"/>
<circle cx="174.2" cy="11.6" r="4" fill="#E02010" stroke="#A01008" stroke-width="0.8"/>
<rect x="173" y="10.4" width="2.5" height="2.5" fill="#FFFFFF"/>
<path d="M256.5,2.5 V15.5 M254.0,13.6 H267.5" stroke="#555" stroke-width="1.3" fill="none"/>
<path d="M254.9,4 L256.5,1.6 L258.1,4 Z M266.5,12.0 L268.7,13.6 L266.5,15.2 Z" fill="#555"/>
<path d="M262.5,3.2 V11.7 M262.5,4.5 H265.2 M262.5,10.2 H260" stroke="#159A15" stroke-width="1.2" fill="none"/>
<path d="M284.4,2.5 V15.5 M281.9,13.6 H295.4" stroke="#555" stroke-width="1.3" fill="none"/>
<path d="M282.79999999999995,4 L284.4,1.6 L286.0,4 Z M294.4,12.0 L296.59999999999997,13.6 L294.4,15.2 Z" fill="#555"/>
<path d="M290.5,0 V11.5" stroke="#0E8A0E" stroke-width="1.2"/>
<rect x="288.5" y="2.5" width="4" height="7" fill="#50E860" stroke="#0E8A0E" stroke-width="1"/>
<path d="M312.3,2.5 V15.5 M309.8,13.6 H323.3" stroke="#555" stroke-width="1.3" fill="none"/>
<path d="M310.7,4 L312.3,1.6 L313.90000000000003,4 Z M322.3,12.0 L324.5,13.6 L322.3,15.2 Z" fill="#555"/>
<path d="M311.5,10.5 Q314.5,5.5 317,5 Q318.8,4.8 321,7.8 L323,8.8" stroke="#3A9A3A" stroke-width="1.1" fill="none"/>
<path d="M351.4,9.5 L356.4,14.5" stroke="#9A6A10" stroke-width="3.2" stroke-linecap="square"/>
<path d="M351.4,9.5 L356.4,14.5" stroke="#EAD050" stroke-width="1.6"/>
<circle cx="347.9" cy="5.8" r="5.5" fill="#DDF0FB" stroke="#2A78C8" stroke-width="1.1"/>
<rect x="344.4" y="5" width="7" height="1.8" fill="#3E80AA"/>
<rect x="347.0" y="2.3" width="1.8" height="7" fill="#3E80AA"/>
<path d="M379.3,9.5 L384.3,14.5" stroke="#9A6A10" stroke-width="3.2" stroke-linecap="square"/>
<path d="M379.3,9.5 L384.3,14.5" stroke="#EAD050" stroke-width="1.6"/>
<circle cx="375.8" cy="5.8" r="5.5" fill="#DDF0FB" stroke="#2A78C8" stroke-width="1.1"/>
<rect x="372.3" y="5" width="7" height="1.8" fill="#3E80AA"/>
<rect x="398.5" y="0" width="7.5" height="7.6" rx="0.8" fill="#2E9A1E"/>
<rect x="399.8" y="3" width="5" height="3.2" fill="#FFFFFF"/>
<rect x="400.5" y="3.8" width="3.5" height="0.6" fill="#2E9A1E" opacity="0.5"/>
<rect x="406.5" y="0" width="7.5" height="7.6" rx="0.8" fill="#1A4AD0"/>
<rect x="407.8" y="3" width="5" height="3.2" fill="#FFFFFF"/>
<rect x="408.5" y="3.8" width="3.5" height="0.6" fill="#1A4AD0" opacity="0.5"/>
<rect x="398.5" y="8" width="7.5" height="7.6" rx="0.8" fill="#1A4AD0"/>
<rect x="399.8" y="11" width="5" height="3.2" fill="#FFFFFF"/>
<rect x="400.5" y="11.8" width="3.5" height="0.6" fill="#1A4AD0" opacity="0.5"/>
<rect x="406.5" y="8" width="7.5" height="7.6" rx="0.8" fill="#2E9A1E"/>
<rect x="407.8" y="11" width="5" height="3.2" fill="#FFFFFF"/>
<rect x="408.5" y="11.8" width="3.5" height="0.6" fill="#2E9A1E" opacity="0.5"/>
<path d="M436.5,2.5 V15.5 M434.0,13.6 H447.5" stroke="#555" stroke-width="1.3" fill="none"/>
<path d="M434.9,4 L436.5,1.6 L438.1,4 Z M446.5,12.0 L448.7,13.6 L446.5,15.2 Z" fill="#555"/>
<path d="M441.2,4.3 L445,7.5 L441.2,10.7 Z" fill="#40D050" stroke="#109A10" stroke-width="1"/>
<path d="M464.5,2.5 V15.5 M462.0,13.6 H475.5" stroke="#555" stroke-width="1.3" fill="none"/>
<path d="M462.9,4 L464.5,1.6 L466.1,4 Z M474.5,12.0 L476.7,13.6 L474.5,15.2 Z" fill="#555"/>
<path d="M470.4,2.3 V11.7" stroke="#1A70A8" stroke-width="1.3"/>
<path d="M471,7.5 L474,5.5 L473.2,7.5 L476,7.5 L473.2,7.5 L474,9.5 Z" fill="#E05010" stroke="#C04010" stroke-width="0.9"/>
<path d="M495.5,0.5 h8 l3,3 v10 h-11 z" fill="#FFFFFF" stroke="#707070" stroke-width="1"/>
<path d="M498.5,10 q1,-5 1.5,-6.5 q0.5,-0.8 1.5,-0.5 M498,6 h2.5" stroke="#404040" stroke-width="0.8" fill="none"/>
<path d="M502.5,5.8 h3 v4 h5 v3 h-5 v4.5 h-3 v-4.5 h-4 v-3 h4 z" fill="#2EE24A" stroke="#0A8A1E" stroke-width="1"/>
<path d="M516.8,7 L522.3,7 L519.55,10 Z" fill="#000"/>
<circle cx="540.9" cy="7.9" r="7" fill="#FFFFFF" stroke="#1A6ED0" stroke-width="2"/>
<circle cx="540.9" cy="7.9" r="8" fill="none" stroke="#0A4AA0" stroke-width="0.6"/>
<path d="M540.5,4 V8.5 H543.5" stroke="#202020" stroke-width="1" fill="none"/>
<path d="M555.6,7 L561.1,7 L558.35,10 Z" fill="#000"/>
<rect x="572.5" y="1.5" width="15" height="13" fill="#FFFFFF" stroke="#2A70C8" stroke-width="1"/>
<rect x="573" y="2" width="14" height="1.5" fill="#7AAEE8"/>
<path d="M573,8.8 H587" stroke="#2A70C8" stroke-width="0.8"/>
<path d="M574,7 L576,6.5 L578,5.5 L580,6.2 L582,5 L584,5.8 L586,5" stroke="#B02A10" stroke-width="1" fill="none"/>
<path d="M574,12.5 L576,12 L578,11 L580,11.8 L582,10 L584,12.5" stroke="#1A9A20" stroke-width="1" fill="none"/>
<path d="M594.8,7 L600.3,7 L597.55,10 Z" fill="#000"/>
<path d="M624,1 L624,12.4 L626.8,10 L629.2,14.8 L631,14 L628.8,9.2 L632.3,8.8 Z" fill="#4A4A4A"/>
<path d="M649,8.6 H655.5 M657.5,8.6 H664 M656.5,1 V7.5 M656.5,9.7 V16" stroke="#4A4A4A" stroke-width="1.3"/>
<path d="M690.5,2 V14.8" stroke="#4A4A4A" stroke-width="1.3"/>
<path d="M713,8.5 H725" stroke="#4A4A4A" stroke-width="1.3"/>
<path d="M741,14.8 L753,2.7" stroke="#4A4A4A" stroke-width="1.1"/>
<path d="M767,9.3 L775,1.5 M771.5,14.5 L781,5.5" stroke="#404040" stroke-width="1.1" fill="none"/>
<path d="M768.5,13 L770.5,7.5 M771.5,11 L773.5,5 M774.5,8.5 L776.5,2.5 M777,6.5 L778,0.5 M768,10.5 L772,9.5 M771,8 L775,7 M774,5.5 L778,4.5" stroke="#404040" stroke-width="0.9" fill="none"/>
<path d="M781.8,12.5 H778.3 V16.5 H781.8 M778.3,14.5 H781" stroke="#404040" stroke-width="1.1" fill="none"/>
<path d="M796,1.4 H808.5" stroke="#505050" stroke-width="1" stroke-dasharray="1 1" fill="none"/>
<path d="M796,4.5 H808.5" stroke="#505050" stroke-width="1" stroke-dasharray="1 1" fill="none"/>
<path d="M796,8.5 H808.5" stroke="#505050" stroke-width="1" stroke-dasharray="1 1" fill="none"/>
<path d="M796,12.4 H805" stroke="#505050" stroke-width="1" stroke-dasharray="1 1" fill="none"/>
<path d="M810.5,12.5 H806.8 V16.8 M806.8,14.5 H809.5" stroke="#404040" stroke-width="1.2" fill="none"/>
<path d="M827.3,12.8 L830.7,4 L834.1,12.8 M828.6,10 H832.8" stroke="#505050" stroke-width="1.5" fill="none"/>
<rect x="853.5" y="2" width="11" height="12.5" fill="none" stroke="#505050" stroke-width="0.9" stroke-dasharray="1 1"/>
<path d="M855.5,5.5 H863 M859.2,5.5 V12.6" stroke="#505050" stroke-width="1.6" fill="none"/>
<path d="M883.6,1.8 L886,4.1 L883.6,6.4 L881.2,4.1 Z M890.5,9.6 L893,12 L890.5,14.4 L888,12 Z" fill="#4A4A4A"/>
<path d="M882,7.5 L884.5,10.5 L888.5,6.3" stroke="#4A4A4A" stroke-width="1.2" fill="none"/>
<path d="M900.8,7 L906.3,7 L903.55,10 Z" fill="#000"/>
<g font-family='"Liberation Sans", sans-serif' font-size="9.5" fill="#3A3A3A">
<text x="927.4" y="12.3">M1</text>
<text x="955.4" y="12.3">M5</text>
<text x="981.6" y="12.3">M15</text>
<text x="1009.6" y="12.3">M30</text>
<text x="1040.4" y="12.3">H1</text>
<text x="1067.5" y="12.3">H4</text>
<text x="1096.3" y="12.3">D1</text>
<text x="1124" y="12.3">W1</text>
<text x="1150.4" y="12.3">MN</text>
</g>
<circle cx="1643.5" cy="5.3" r="3.6" fill="#F4F4FF" stroke="#2A5ED0" stroke-width="1.3"/>
<path d="M1641,8 L1636.5,12.8" stroke="#2A5ED0" stroke-width="2" stroke-linecap="round"/>
<ellipse cx="1665.5" cy="10" rx="5.5" ry="4" fill="#E4E4EC" stroke="#A0A0A0" stroke-width="0.8"/>
<path d="M1663,13.5 L1663,16.5 L1666,13.8" fill="#A0A0A0"/>
<circle cx="1674.5" cy="5.5" r="8.3" fill="#DC3A1E"/>
<text x="1674.5" y="10" font-family='"Liberation Serif", serif' font-size="12" font-weight="bold" fill="#FFFFFF" text-anchor="middle">1</text>
</g>
</svg>
</body></html>
